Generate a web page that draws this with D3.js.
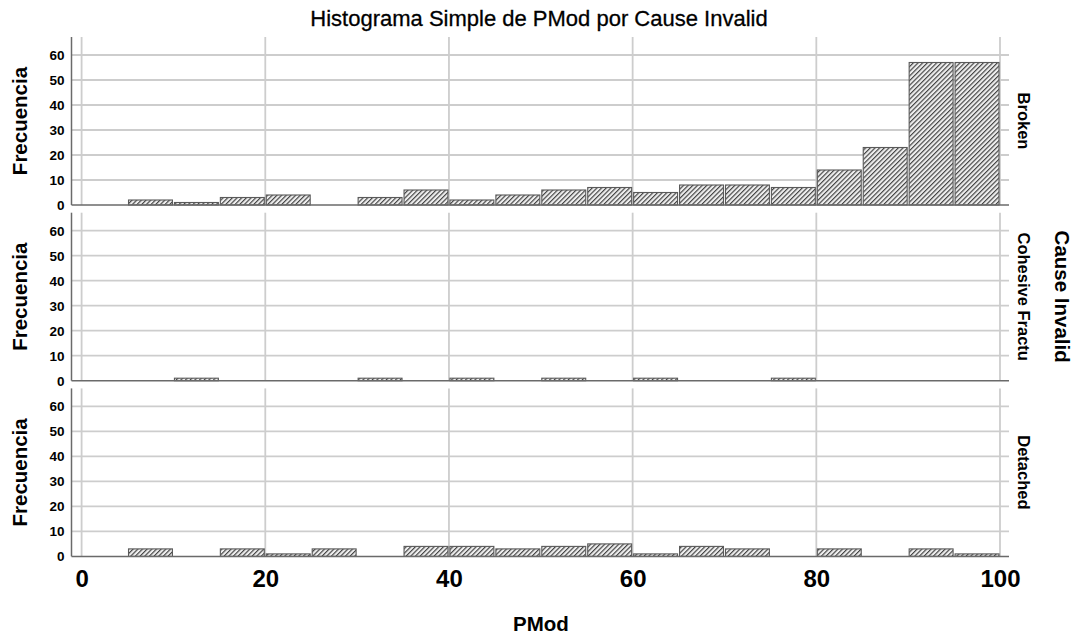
<!DOCTYPE html>
<html><head><meta charset="utf-8">
<script src="https://cdn.jsdelivr.net/npm/d3@7"></script>
<style>
html,body{margin:0;padding:0;background:#fff}
svg{display:block}
text{font-family:"Liberation Sans",Arial,sans-serif}
</style>
</head><body>
<svg id="c" width="1080" height="641"></svg>
<script>
// ---- data ----
const binStarts = [0,5,10,15,20,25,30,35,40,45,50,55,60,65,70,75,80,85,90,95];
const binWidth = 5;
const panelNames = ["Broken", "Cohesive Fractu", "Detached"];
const brokenCounts   = [0,2,1,3,4,0,3,6,2,4,6,7,5,8,8,7,14,23,57,57];
const cohesiveCounts = [0,0,1,0,0,0,1,0,1,0,1,0,1,0,0,1,0,0,0,0];
const detachedCounts = [0,3,0,3,1,3,0,4,4,3,4,5,1,4,3,0,3,0,3,1];
const yTicks = [0,10,20,30,40,50,60];
const xTicks = [0,20,40,60,80,100];
const chartTitle = "Histograma Simple de PMod por Cause Invalid";
const xTitle = "PMod";
const yTitle = "Frecuencia";
const facetTitle = "Cause Invalid";

const panelCounts = [brokenCounts, cohesiveCounts, detachedCounts];

// ---- layout ----
const svg = d3.select("#c");
const left = 71.5, right = 1009;
const panelH = 168, panelStep = 175.7, top0 = 37;
const x = d3.scaleLinear().domain([0,100]).range([81.6,1000]);

// hatch pattern
const defs = svg.append("defs");
const pat = defs.append("pattern").attr("id","hatch")
  .attr("patternUnits","userSpaceOnUse")
  .attr("width",3.3).attr("height",10)
  .attr("patternTransform","rotate(45)");
pat.append("rect").attr("width",3.3).attr("height",10).attr("fill","#eeeeee");
pat.append("line").attr("x1",0.6).attr("x2",0.6).attr("y1",0).attr("y2",10)
  .attr("stroke","#3a3a3a").attr("stroke-width",1.1);

panelCounts.forEach((counts, p) => {
  const top = top0 + p*panelStep;
  const base = top + panelH;
  const y = d3.scaleLinear().domain([0, panelH/2.5]).range([base, top]);
  const g = svg.append("g");

  // horizontal gridlines
  g.selectAll("line.hg").data(yTicks.filter(d=>d>0)).join("line")
    .attr("x1", left).attr("x2", right)
    .attr("y1", d=>y(d)).attr("y2", d=>y(d))
    .attr("stroke","#cdcdcd").attr("stroke-width",1.8);
  // vertical gridlines
  g.selectAll("line.vg").data(xTicks).join("line")
    .attr("x1", d=>x(d)).attr("x2", d=>x(d))
    .attr("y1", top).attr("y2", base)
    .attr("stroke","#cdcdcd").attr("stroke-width",1.8);

  // bars
  const bars = binStarts.map((s,i)=>({s, c: counts[i]})).filter(d=>d.c>0);
  g.selectAll("rect.bar").data(bars).join("rect")
    .attr("x", d=>x(d.s)+1)
    .attr("width", d=>x(d.s+binWidth)-x(d.s)-2)
    .attr("y", d=>y(d.c))
    .attr("height", d=>base - y(d.c))
    .attr("fill","url(#hatch)")
    .attr("stroke","#5a5a5a").attr("stroke-width",1.1);

  // axis lines
  g.append("line").attr("x1",left).attr("x2",left).attr("y1",top).attr("y2",base)
    .attr("stroke","#6a6a6a").attr("stroke-width",1.5);
  g.append("line").attr("x1",left).attr("x2",right).attr("y1",base).attr("y2",base)
    .attr("stroke","#6a6a6a").attr("stroke-width",1.5);

  // y axis tick labels
  const ya = g.append("g").attr("transform",`translate(${left},0)`)
    .call(d3.axisLeft(y).tickValues(yTicks).tickSize(0).tickPadding(7));
  ya.attr("font-family",null).attr("font-size",null);
  ya.select(".domain").remove();
  ya.selectAll("text").attr("font-size","13.5px").attr("font-weight","bold").attr("fill","#000");

  // y title
  svg.append("text")
    .attr("transform",`translate(27,${(top+base)/2}) rotate(-90)`)
    .attr("text-anchor","middle")
    .attr("font-size","20.5px").attr("font-weight","bold").attr("fill","#000")
    .text(yTitle);

  // strip label
  svg.append("text")
    .attr("transform",`translate(1018,${(top+base)/2}) rotate(90)`)
    .attr("text-anchor","middle")
    .attr("font-size","16.5px").attr("font-weight","bold").attr("fill","#000")
    .text(panelNames[p]);

  if (p === panelCounts.length-1) {
    const xa = svg.append("g").attr("transform",`translate(0,${base})`)
      .call(d3.axisBottom(x).tickValues(xTicks).tickSize(0));
    xa.attr("font-family",null).attr("font-size",null);
    xa.select(".domain").remove();
    xa.selectAll("text").attr("y",31).attr("dy",null)
      .attr("font-size","24px").attr("font-weight","bold").attr("fill","#000");
  }
});

// titles
svg.append("text").attr("x",539).attr("y",25.5).attr("text-anchor","middle")
  .attr("font-size","22px").attr("fill","#000")
  .attr("stroke","#000").attr("stroke-width",0.3).text(chartTitle);
svg.append("text").attr("x",541).attr("y",630.5).attr("text-anchor","middle")
  .attr("font-size","20.5px").attr("font-weight","bold").attr("fill","#000").text(xTitle);
svg.append("text")
  .attr("transform",`translate(1055,${top0+panelStep+panelH/2}) rotate(90)`)
  .attr("text-anchor","middle")
  .attr("font-size","20.5px").attr("font-weight","bold").attr("fill","#000")
  .text(facetTitle);
</script>
</body></html>
